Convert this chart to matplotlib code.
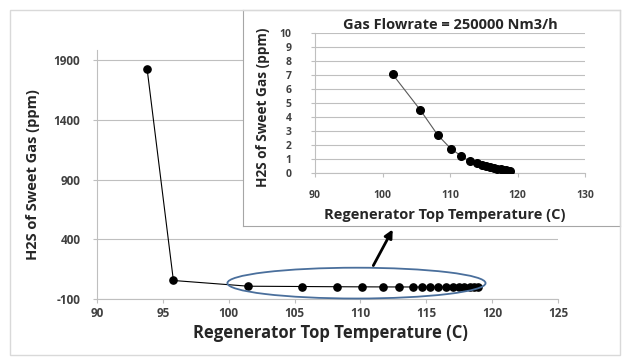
import matplotlib
matplotlib.use("Agg")
import matplotlib.pyplot as plt
from matplotlib.patches import Ellipse, Rectangle, FancyArrowPatch

plt.rcParams['font.family'] = ['Open Sans', 'DejaVu Sans']
plt.rcParams['axes.unicode_minus'] = False

# inset data (zoom view)
inset_temp = [101.5, 105.6, 108.2, 110.1, 111.7, 112.9, 114.0, 114.7, 115.3, 115.9,
              116.5, 117.0, 117.5, 117.9, 118.3, 118.6, 118.9]
inset_h2s = [7.05, 4.5, 2.7, 1.75, 1.2, 0.85, 0.7, 0.6, 0.5, 0.42,
             0.35, 0.3, 0.26, 0.23, 0.2, 0.17, 0.15]
# main data
main_temp = [93.8, 95.8] + inset_temp
main_h2s = [1830, 55] + inset_h2s

main_xticks = [90, 95, 100, 105, 110, 115, 120, 125]
main_yticks = [-100, 400, 900, 1400, 1900]
inset_xticks = [90, 100, 110, 120, 130]
inset_yticks = list(range(0, 11))

title_inset = "Gas Flowrate = 250000 Nm3/h"
xlabel = "Regenerator Top Temperature (C)"
ylabel = "H2S of Sweet Gas (ppm)"

W, H = 625, 358
fig = plt.figure(figsize=(W / 100, H / 100), dpi=100)

def fr(l, t, r, b):
    return [l / W, 1 - b / H, (r - l) / W, (b - t) / H]

# outer border
fig.patches.append(Rectangle((10 / W, 1 - 355 / H), 610 / W, 345 / H, transform=fig.transFigure,
                             fill=False, edgecolor='#d9d9d9', linewidth=1))

tick_color = '#404040'
grid_color = '#bfbfbf'
label_color = '#262626'

ax = fig.add_axes(fr(97, 50, 558, 299))
ax.plot(main_temp, main_h2s, color='black', linewidth=0.8, marker='o', markersize=5.2,
        markerfacecolor='black', markeredgecolor='black', zorder=3)
ax.set_xlim(90, 125)
ax.set_ylim(-100, 1985)
ax.set_xticks(main_xticks)
ax.set_yticks(main_yticks)
ax.yaxis.grid(True, color=grid_color, linewidth=0.8)
ax.set_axisbelow(True)
for s in ['top', 'right']:
    ax.spines[s].set_visible(False)
for s in ['left', 'bottom']:
    ax.spines[s].set_color('#bfbfbf')
ax.tick_params(axis='both', colors=grid_color, labelcolor=tick_color, labelsize=8.5, length=3)
ax.tick_params(axis='y', pad=9)
ax.tick_params(axis='x', pad=3)
for lab in ax.get_xticklabels() + ax.get_yticklabels():
    lab.set_fontweight('bold')
ax.set_xlabel(xlabel, fontsize=12, fontweight='bold', color=label_color)
ax.set_ylabel(ylabel, fontsize=10.5, fontweight='bold', color=label_color)
ax.xaxis.set_label_coords(0.5 + (330 - 327.5) / 461, (299 - 333) / 249)
ax.xaxis.label.set_va('center')
ax.yaxis.set_label_coords((33 - 97) / 461, (299 - 175) / 249)
ax.yaxis.label.set_va('center')

ell = Ellipse((109.7, 33), 19.6, 258, fill=False, edgecolor='#4a6f9c', linewidth=1.3,
              clip_on=False, zorder=4)
ax.add_patch(ell)

# inset background box
bg = fig.add_axes(fr(243, 10, 620, 226))
bg.set_xticks([])
bg.set_yticks([])
bg.set_facecolor('white')
for s in bg.spines.values():
    s.set_color('#a6a6a6')
    s.set_linewidth(0.8)

ins = fig.add_axes(fr(315, 33, 585, 173))
ins.plot(inset_temp, inset_h2s, color='#595959', linewidth=0.8, marker='o', markersize=5.5,
         markerfacecolor='black', markeredgecolor='black', zorder=3)
ins.set_xlim(90, 130)
ins.set_ylim(0, 10)
ins.set_xticks(inset_xticks)
ins.set_yticks(inset_yticks)
ins.yaxis.grid(True, color=grid_color, linewidth=0.8)
ins.set_axisbelow(True)
for s in ['top', 'right']:
    ins.spines[s].set_visible(False)
for s in ['left', 'bottom']:
    ins.spines[s].set_color('#bfbfbf')
ins.tick_params(axis='both', colors=grid_color, labelcolor=tick_color, labelsize=7.5, length=3)
ins.tick_params(axis='y', pad=14)
ins.tick_params(axis='x', pad=9)
for lab in ins.get_xticklabels() + ins.get_yticklabels():
    lab.set_fontweight('bold')
ins.set_title(title_inset, fontsize=10.5, fontweight='bold', color=label_color, pad=3)
ins.set_xlabel(xlabel, fontsize=10.5, fontweight='bold', color=label_color)
ins.set_ylabel(ylabel, fontsize=9.8, fontweight='bold', color=label_color)
ins.xaxis.set_label_coords(0.5 + (445 - 450) / 270, (173 - 215) / 140)
ins.xaxis.label.set_va('center')
ins.yaxis.set_label_coords((263 - 315) / 270, 0.5 - 0.03)
ins.yaxis.label.set_va('center')

# arrow from ellipse to inset
fig.patches.append(FancyArrowPatch(
    (372 / W, 1 - 268 / H), (394 / W, 1 - 227 / H), transform=fig.transFigure,
    arrowstyle='-|>', mutation_scale=12, color='black', linewidth=2, zorder=10))

fig.savefig('out.png', dpi=100)
